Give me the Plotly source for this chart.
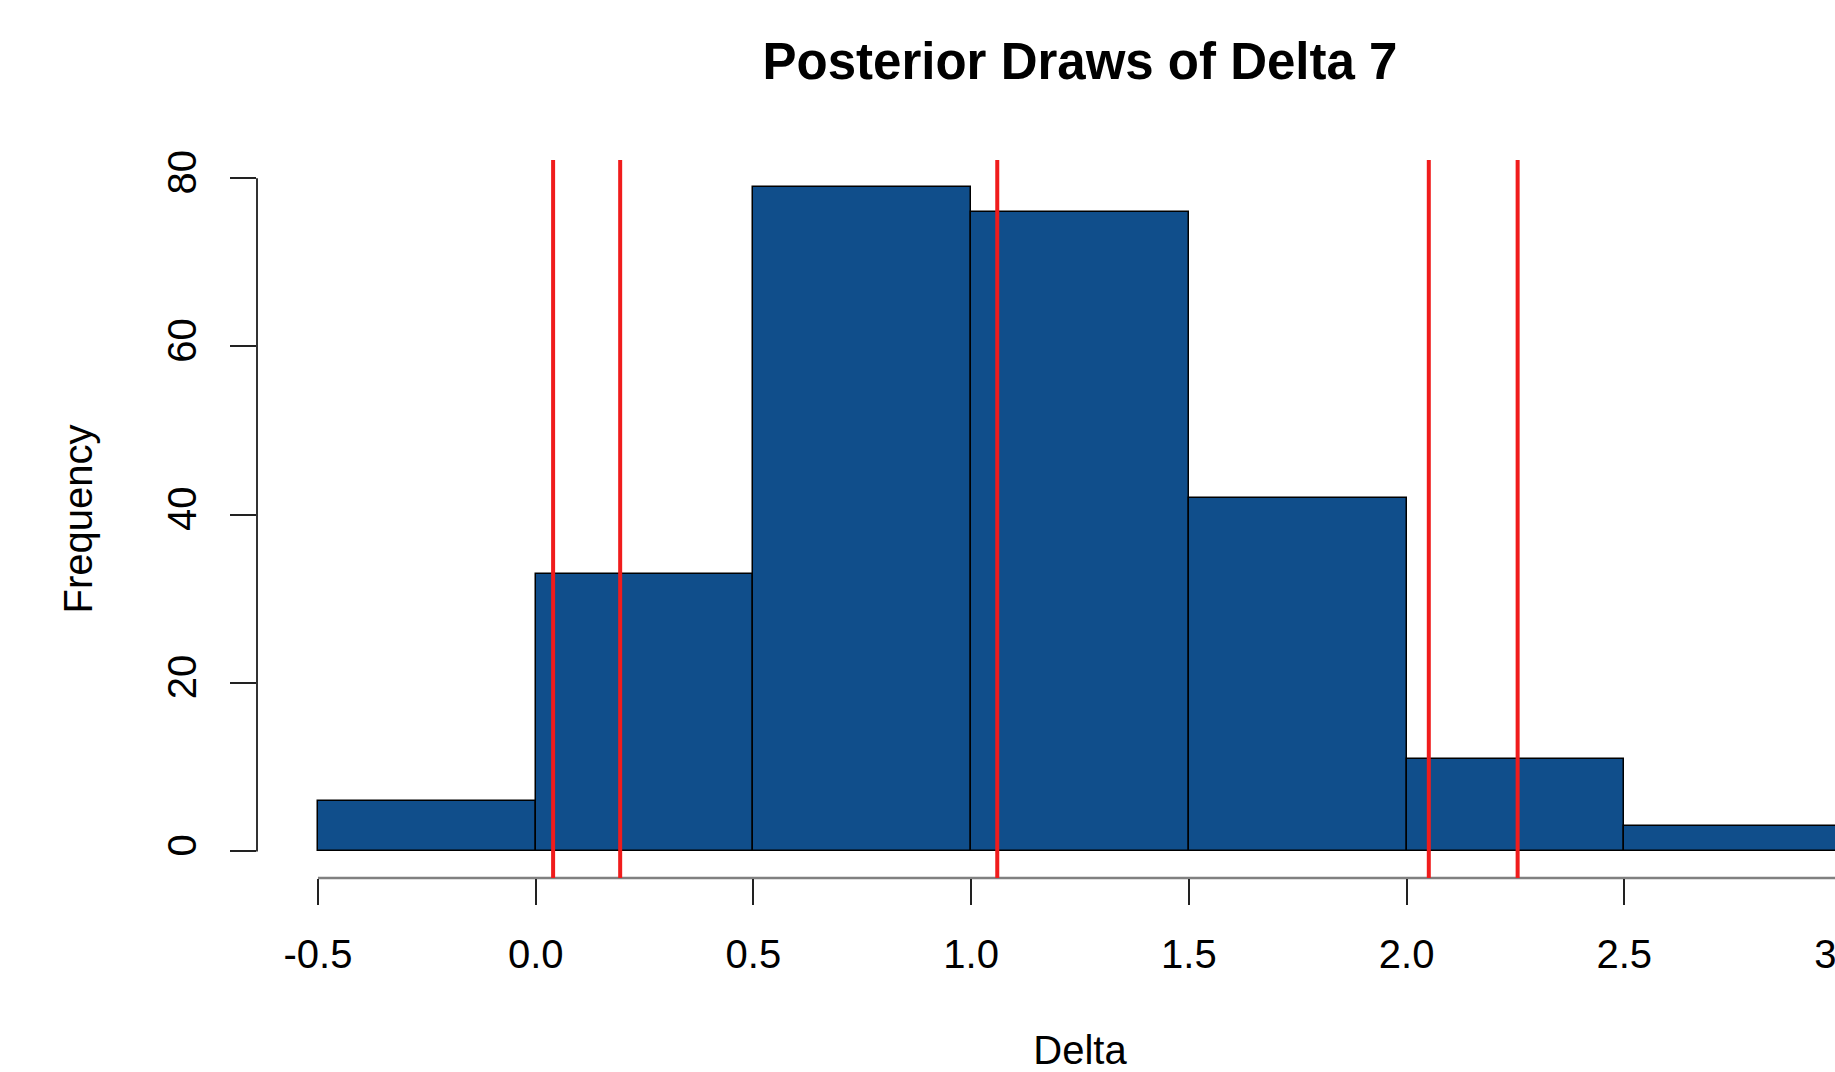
import plotly.graph_objects as go

# ---- data ----
breaks = [-0.5, 0.0, 0.5, 1.0, 1.5, 2.0, 2.5, 3.0]
counts = [6, 33, 79, 76, 42, 11, 3]
ref_lines = [0.040, 0.194, 1.060, 2.051, 2.255]
x_ticks = [-0.5, 0.0, 0.5, 1.0, 1.5, 2.0, 2.5, 3.0]
x_tick_labels = ["-0.5", "0.0", "0.5", "1.0", "1.5", "2.0", "2.5", "3.0"]
y_ticks = [0, 20, 40, 60, 80]
y_tick_labels = ["0", "20", "40", "60", "80"]

title_text = "Posterior Draws of Delta 7"
x_title = "Delta"
y_title = "Frequency"

# ---- derived ----
centers = [(a + b) / 2 for a, b in zip(breaks[:-1], breaks[1:])]
widths = [b - a for a, b in zip(breaks[:-1], breaks[1:])]
xlo, xhi = min(breaks), max(breaks)
xpad = 0.04 * (xhi - xlo)
ylo, yhi = 0, max(counts)
ypad = 0.04 * (yhi - ylo)

FONT = "Liberation Sans, Arial, Helvetica, sans-serif"
BAR_COLOR = "#104E8B"

fig = go.Figure()
fig.add_trace(go.Bar(
    x=centers, y=counts, width=widths,
    marker=dict(color=BAR_COLOR, line=dict(color="black", width=1.5)),
    hoverinfo="x+y", showlegend=False,
))

shapes = []
for v in ref_lines:
    shapes.append(dict(type="line", xref="x", yref="paper", x0=v, x1=v, y0=0, y1=1,
                       line=dict(color="#F01C1C", width=4), layer="above"))
# R-style axis lines spanning first to last tick
shapes.append(dict(type="line", xref="x", yref="paper", x0=x_ticks[0], x1=x_ticks[-1],
                   y0=0, y1=0, line=dict(color="#808080", width=2.5), layer="below"))
shapes.append(dict(type="line", xref="paper", yref="y", x0=0, x1=0,
                   y0=y_ticks[0], y1=y_ticks[-1], line=dict(color="#333333", width=2), layer="below"))

fig.update_layout(
    width=1903, height=1072,
    margin=dict(l=257, r=0, t=160, b=194, pad=0),
    paper_bgcolor="white", plot_bgcolor="white",
    font=dict(family=FONT, size=40, color="black"),
    bargap=0,
    shapes=shapes,
    title=dict(text=title_text, x=0.5, xref="paper", xanchor="center",
               y=1 - 61.5 / 1072, yref="container", yanchor="middle",
               font=dict(family=FONT, size=51, color="black", weight="bold")),
    xaxis=dict(
        range=[xlo - xpad, xhi + xpad], tickmode="array",
        tickvals=x_ticks, ticktext=x_tick_labels,
        ticks="outside", ticklen=26, tickwidth=2, tickcolor="#222222",
        showline=False, showgrid=False, zeroline=False,
        tickfont=dict(size=40), ticklabelstandoff=15,
        title=dict(text=x_title, font=dict(size=40), standoff=68),
    ),
    yaxis=dict(
        range=[ylo - ypad, yhi + ypad], tickmode="array",
        tickvals=y_ticks, ticktext=y_tick_labels, tickangle=-90,
        ticks="outside", ticklen=26, tickwidth=2, tickcolor="#222222",
        showline=False, showgrid=False, zeroline=False,
        tickfont=dict(size=40), ticklabelstandoff=18,
        title=dict(text=y_title, font=dict(size=40), standoff=55),
    ),
)

fig.write_html(
    "out.html",
    config={"displayModeBar": False},
    post_script="document.body.style.margin='0px';document.body.style.overflow='hidden';document.documentElement.style.overflow='hidden';",
)
